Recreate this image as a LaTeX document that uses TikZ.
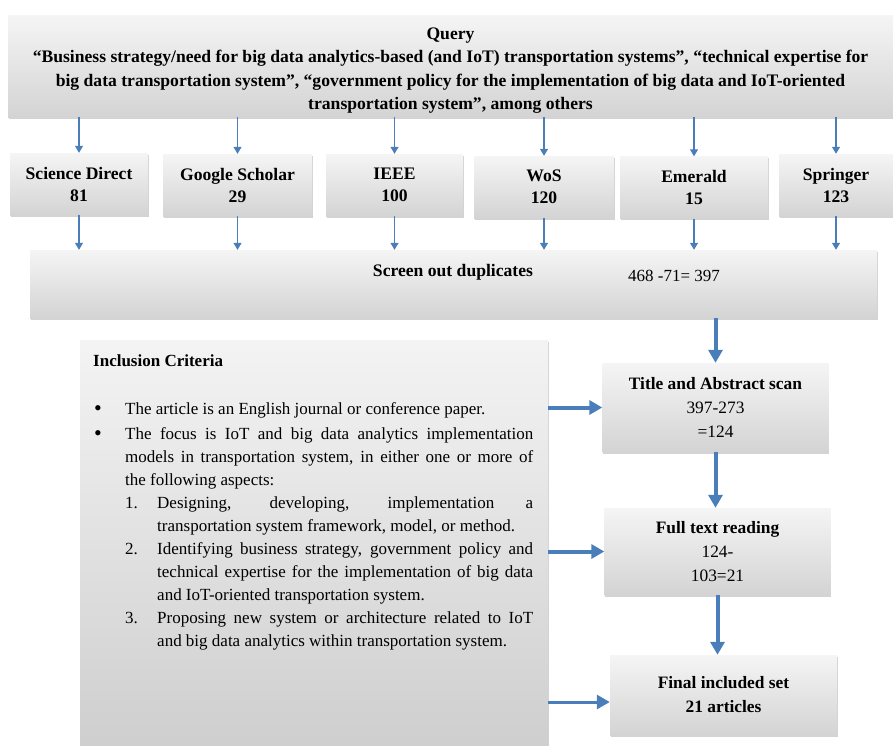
\documentclass[tikz,border=0pt]{standalone}
\usepackage{fontspec}
\setmainfont{Liberation Serif}
\usepackage{enumitem}
\usetikzlibrary{arrows.meta,shadows}

\newlength{\du}
\setlength{\du}{1pt}

\tikzset{
  greybox/.style={inner sep=0pt, top color=gray!8, bottom color=gray!34,
    drop shadow={shadow xshift=0.8pt, shadow yshift=-1.6pt, opacity=0.35}},
  srcbox/.style={greybox, minimum height=62\du, align=center,
    font=\fontsize{17.6}{22}\selectfont\bfseries},
  stagebox/.style={greybox, minimum width=226\du, align=center,
    font=\fontsize{17.4}{24}\selectfont},
  thinarrow/.style={draw=arrowblue, line width=1.2pt, -{Triangle[width=8pt,length=7pt]}},
  bigarrow/.style={draw=arrowblue, line width=4pt, -{Triangle[width=14pt,length=13pt]}},
}

\begin{document}
\begin{tikzpicture}
\pgftransformxscale{1.000000}
\pgftransformyscale{-1.000000}
\definecolor{arrowblue}{rgb}{0.290000, 0.494000, 0.733000}
\useasboundingbox (0\du,0\du) rectangle (893\du,745\du);
% query
\node[greybox, minimum width=885\du, minimum height=102\du] (query) at (450.5\du,66\du){};
\node[align=center, font=\fontsize{17.6}{23.3}\selectfont\bfseries] (querytext) at (450.5\du,70.5\du){Query\\
“Business strategy/need for big data analytics-based (and IoT) transportation systems”, “technical expertise for\\
big data transportation system”, “government policy for the implementation of big data and IoT-oriented\\
transportation system”, among others};
% databases
\node[srcbox, minimum width=138\du] (scidir) at (79\du,184\du){Science Direct\\81};
\node[srcbox, minimum width=149\du] (gscholar) at (237.5\du,185\du){Google Scholar\\29};
\node[srcbox, minimum width=137\du] (ieee) at (394.5\du,185\du){IEEE\\100};
\node[srcbox, minimum width=140\du] (wos) at (544\du,187\du){WoS\\120};
\node[srcbox, minimum width=148\du] (emerald) at (694\du,187.5\du){Emerald\\15};
\node[srcbox, minimum width=114\du] (springer) at (836\du,185\du){Springer\\123};
% duplicates
\node[greybox, minimum width=847\du, minimum height=68\du] (screen) at (453.5\du,284\du){};
\node[font=\fontsize{17.6}{20}\selectfont\bfseries] (screenlbl) at (453\du,272\du){Screen out duplicates};
\node[font=\fontsize{17}{20}\selectfont] (screennum) at (674\du,276\du){468 -71= 397};
% inclusion criteria
\node[greybox, top color=gray!9, bottom color=gray!38, minimum width=468\du, minimum height=405\du] (incl) at (314\du,542.5\du){};
\node[anchor=north west, inner sep=0pt, text width=440\du, align=justify,
  font=\fontsize{17}{23}\selectfont] (incltext) at (93\du,354\du){%
\textbf{Inclusion Criteria}\par\vspace{23\du}
\begin{itemize}[label={\fontsize{22}{22}\selectfont\raisebox{-1pt}{\textbullet}}, leftmargin=32pt, labelindent=1pt, labelsep=*, align=left, topsep=0pt, itemsep=2pt, parsep=0pt]
\item The article is an English journal or conference paper.
\item The focus is IoT and big data analytics implementation\linebreak models in transportation system, in either one or more of\linebreak the following aspects:
\begin{enumerate}[label=\arabic*., leftmargin=32pt, labelindent=0pt, labelsep=*, align=left, topsep=0pt, itemsep=0pt, parsep=0pt]
\item Designing, developing, implementation a\linebreak transportation system framework, model, or method.
\item Identifying business strategy, government policy and\linebreak technical expertise for the implementation of big data\linebreak and IoT-oriented transportation system.
\item Proposing new system or architecture related to IoT\linebreak and big data analytics within transportation system.
\end{enumerate}
\end{itemize}};
% stages
\node[stagebox, minimum height=89\du] (titlescan) at (715.5\du,407.5\du){\textbf{Title and Abstract scan}\\397-273\\=124};
\node[stagebox, minimum height=87\du] (fulltext) at (717.5\du,551.5\du){\textbf{Full text reading}\\124-\\103=21};
\node[stagebox, minimum height=80\du, minimum width=227\du] (final) at (723.5\du,695\du){\textbf{Final included set}\\\textbf{21 articles}};
% arrows from query
\draw[thinarrow] (query.south -| scidir.north) -- (scidir.north);
\draw[thinarrow] (query.south -| gscholar.north) -- (gscholar.north);
\draw[thinarrow] (query.south -| ieee.north) -- (ieee.north);
\draw[thinarrow] (query.south -| wos.north) -- (wos.north);
\draw[thinarrow] (query.south -| emerald.north) -- (emerald.north);
\draw[thinarrow] (query.south -| springer.north) -- (springer.north);
% arrows to screening
\draw[thinarrow] (scidir.south) -- (scidir.south |- screen.north);
\draw[thinarrow] (gscholar.south) -- (gscholar.south |- screen.north);
\draw[thinarrow] (ieee.south) -- (ieee.south |- screen.north);
\draw[thinarrow] (wos.south) -- (wos.south |- screen.north);
\draw[thinarrow] (emerald.south) -- (emerald.south |- screen.north);
\draw[thinarrow] (springer.south) -- (springer.south |- screen.north);
% stage arrows
\draw[bigarrow] (screen.south -| titlescan.north) -- (titlescan.north);
\draw[bigarrow] (titlescan.south) -- (titlescan.south |- fulltext.north);
\draw[bigarrow] (fulltext.south) -- (fulltext.south |- final.north);
\draw[bigarrow] (incl.east |- titlescan.west) -- (titlescan.west);
\draw[bigarrow] (incl.east |- fulltext.west) -- (fulltext.west);
\draw[bigarrow, line width=3pt] ([yshift=7\du]incl.east |- final.west) -- ([yshift=7\du]final.west);
\end{tikzpicture}
\end{document}
